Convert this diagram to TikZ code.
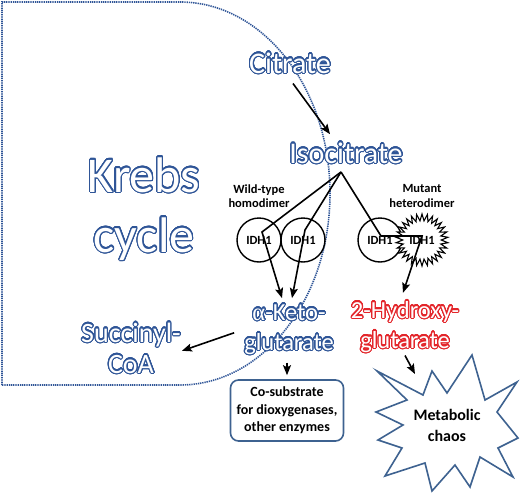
\documentclass[tikz,border=0pt]{standalone}
\usepackage{fontspec}
\setmainfont{Carlito}
\newfontfamily\grkfont{Liberation Serif}
\usepackage[copies]{contour}
\usetikzlibrary{arrows.meta,shapes.geometric,calc}
\definecolor{kblue}{HTML}{2F5597}
\definecolor{kred}{HTML}{E3262B}
\definecolor{sblue}{HTML}{3E6290}
\definecolor{dotblue}{HTML}{2F5597}
\contourlength{1.1pt}
\contournumber{32}
\newcommand{\bluetxt}[1]{\contour{kblue}{\textcolor{white}{#1}}}
\newcommand{\redtxt}[1]{\contour{kred}{\textcolor{white}{#1}}}
\begin{document}
\begin{tikzpicture}[x=1pt,y=-1pt,
  krebsline/.style={draw=dotblue, line width=1.6pt, dash pattern=on 1.3pt off 0.9pt},
  lbl/.style={inner sep=0pt, anchor=base},
  huge/.style={lbl, font=\fontsize{50}{60}\selectfont},
  big/.style={lbl, font=\fontsize{30}{34}\selectfont},
  mid/.style={lbl, font=\fontsize{24.5}{28}\selectfont},
  succ/.style={lbl, font=\fontsize{28}{32}\selectfont},
  small/.style={lbl, font=\bfseries\fontsize{12.5}{14}\selectfont},
  arr/.style={draw=black, line width=1.6pt, line join=miter, -{Stealth[length=10pt,width=8pt,inset=2pt]}},
  idh/.style={circle, draw=black, line width=1.4pt, minimum size=44pt, inner sep=0pt, font=\bfseries\fontsize{12.5}{14}\selectfont},
  subbox/.style={draw=sblue, line width=1.6pt, rounded corners=8pt, fill=white, minimum width=113pt, minimum height=61pt, inner sep=0pt, align=center, font=\bfseries\fontsize{14}{17.5}\selectfont},
  chaosstar/.style={draw=sblue, line width=1.6pt, fill=white, line join=miter}
]
\useasboundingbox (0,0) rectangle (520,493);

% Krebs cycle boundary
\draw[krebsline] (2,385) -- (2,2) -- (180,2) arc[start angle=-90,end angle=90,x radius=150,y radius=191.5] -- cycle;

% outlined texts
\node[huge] (krebs) at (144,192) {\bluetxt{Krebs}};
\node[huge] (cycle) at (144,252) {\bluetxt{cycle}};
\node[big] (cit) at (290,73) {\bluetxt{Citrate}};
\node[big] (iso) at (346,163) {\bluetxt{Isocitrate}};
\node[mid] (ak1) at (289,320) {\bluetxt{{\grkfont α}-Keto-}};
\node[mid] (ak2) at (289,350) {\bluetxt{glutarate}};
\node[mid] (hg1) at (405,318) {\redtxt{2-Hydroxy-}};
\node[mid] (hg2) at (405,348) {\redtxt{glutarate}};
\node[succ] (sc1) at (131,342) {\bluetxt{Succinyl-}};
\node[succ] (sc2) at (131,373) {\bluetxt{CoA}};

% dimer labels
\node[small] (wt1) at (259,193) {Wild-type};
\node[small] (wt2) at (259,207) {homodimer};
\node[small] (mt1) at (422,192) {Mutant};
\node[small] (mt2) at (422,207) {heterodimer};

% IDH1 subunits
\node[idh] (w1) at (259,240) {IDH1};
\node[idh] (w2) at (303,240) {IDH1};
\node[idh] (m1) at (380,240) {IDH1};
\node[star, star points=30, star point ratio=1.35, minimum size=52pt, draw=black, line width=1.1pt, fill=white, inner sep=0pt] (mstar) at (422,240) {};
\node[inner sep=0pt, font=\bfseries\fontsize{12.5}{14}\selectfont] (m2) at (422,240) {IDH1};

% connectors from isocitrate
\coordinate (apex) at (341,172);
\coordinate (c1) at (262,232);
\coordinate (c2) at (305,230);
\coordinate (c3) at (381,236);
\coordinate (c4) at (422,236);
\draw[arr] (apex) -- (c1) -- ($(ak1.north)+(-7,-6)$);
\draw[arr] (apex) -- (c2) -- ($(ak1.north)+(3,-6)$);
\draw[arr] (apex) -- (c3) -- (c4) -- ($(hg1.north)+(-2,-8)$);

\draw[arr] ($(cit.south)+(3,9)$) -- ($(iso.north)+(-16,-8)$);
\draw[arr] ($(ak2.north west)+(-10,0)$) -- ($(sc1.south east)+(1,3)$);

% co-substrate box
\node[subbox] (box) at (287,410.5) {Co-substrate\\for dioxygenases,\\other enzymes};
\draw[arr] ($(ak2.south)+(-2,7)$) -- ($(box.north)+(0,-4)$);

% metabolic chaos explosion
\draw[chaosstar] (377,371) -- (423,395) -- (432,371) -- (447,393) -- (472,355) -- (485,400)
  -- (517,382) -- (497,412) -- (518,438) -- (498,448) -- (513,477) -- (480,457)
  -- (470,487) -- (455,465) -- (432,491) -- (425,463) -- (385,476) -- (402,448)
  -- (378,440) -- (403,425) -- (376,412) -- (407,400) -- cycle;
\node[inner sep=0pt, align=center, font=\bfseries\fontsize{16}{21}\selectfont] (chaos) at (447,425) {Metabolic\\chaos};
\coordinate (chaosin) at (415,374);
\draw[arr] ($(hg2.south)+(0,2)$) -- (chaosin);
\end{tikzpicture}
\end{document}
